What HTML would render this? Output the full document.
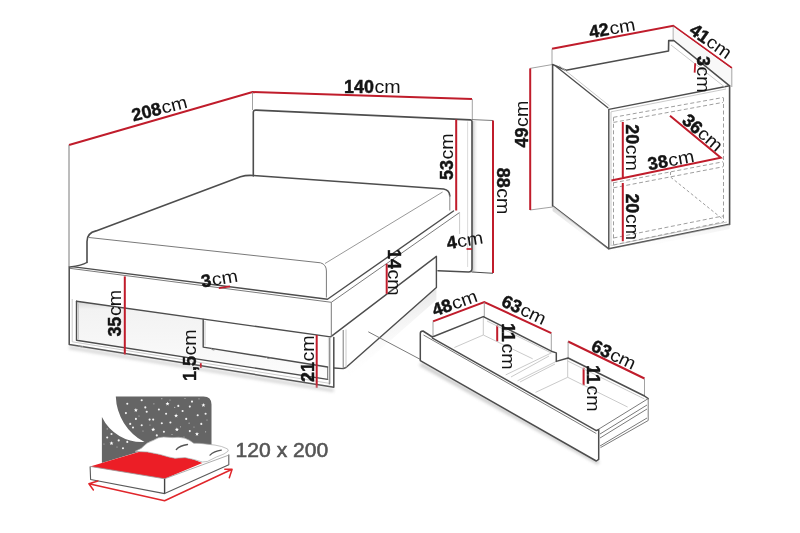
<!DOCTYPE html>
<html><head><meta charset="utf-8">
<style>
html,body{margin:0;padding:0;background:#fff;}
body{width:800px;height:533px;overflow:hidden;}
svg{display:block;filter:blur(0.3px);}
text{font-family:"Liberation Sans",sans-serif;fill:#141414;}
.b{font-weight:bold;stroke:#141414;stroke-width:0.45;}
.c{}
text{font-size:17.9px;}
.d{stroke:#4d4d4d;stroke-width:1.6;fill:none;stroke-linejoin:round;stroke-linecap:round;}
.m{stroke:#7a7a7a;stroke-width:1;fill:none;}
.l{stroke:#c4c4c4;stroke-width:0.9;fill:none;}
.r{stroke:#c01c2b;stroke-width:2;fill:none;}
.e{stroke:#8a8a8a;stroke-width:0.8;fill:none;}
.ds{stroke:#9a9a9a;stroke-width:0.95;fill:none;stroke-dasharray:4 2.5;}
</style></head>
<body>
<svg width="800" height="533" viewBox="0 0 800 533">
<defs>
<linearGradient id="hs" x1="0" x2="1" y1="0" y2="0">
<stop offset="0" stop-color="#c4c4c4"/><stop offset="1" stop-color="#fff" stop-opacity="0"/>
</linearGradient>
<linearGradient id="rs" x1="0" x2="0" y1="0" y2="1">
<stop offset="0" stop-color="#d6d6d6"/><stop offset="0.1" stop-color="#f2f2f2"/><stop offset="1" stop-color="#fcfcfc"/>
</linearGradient>
<linearGradient id="sh" x1="0" x2="0.3" y1="0" y2="1">
<stop offset="0" stop-color="#d0d0d0"/><stop offset="1" stop-color="#fff" stop-opacity="0"/>
</linearGradient>
<linearGradient id="sh2" x1="0" x2="0" y1="0" y2="1">
<stop offset="0" stop-color="#d8d8d8"/><stop offset="1" stop-color="#fff" stop-opacity="0"/>
</linearGradient>
<filter id="bl" x="-10%" y="-50%" width="120%" height="200%"><feGaussianBlur stdDeviation="1.8"/></filter>
</defs>

<!-- ================= BED ================= -->
<!-- dimension 208 / 140 -->
<path class="r" d="M69,145 L252.5,92 L472,99"/>
<path class="e" d="M252.5,92 V110 M472.3,99 V120"/>
<path class="m" d="M69,145 V267"/>

<!-- headboard -->
<rect x="472.5" y="121" width="6" height="151" fill="url(#hs)"/>
<path class="d" d="M253.3,176 V112.5 Q253.3,110 256,110.1 L470.5,119.9 Q472,120 472,121.5 V268.5 Q472,272 468.5,272 L438,270.8"/>
<path class="l" d="M467.6,121.5 V267" style="stroke:#d8d8d8"/>
<path class="m" d="M472,119.6 L493,120.5"/>
<path class="d" d="M472,272 L492.5,273.2" style="stroke-width:1.1"/>
<path class="r" d="M456.2,119.5 V210.5 M493,120.5 V273"/>
<path class="r" d="M466.5,249 H472" style="stroke-width:1.6"/>

<!-- mattress -->
<path class="d" d="M87,262.5 V241.5 Q87,233 96,230.9 L240.5,176.8 Q246.5,174.9 253.4,175.5 L443.6,189 Q449.6,190 449.8,196"/>
<path class="m" d="M449.8,195 V210.5" style="stroke:#888"/>
<path class="m" d="M89,237.5 L320.5,262.8 Q326.4,264.5 326.4,271 V297.5"/>
<path class="m" d="M442.6,192 L325,263.5" style="stroke:#999"/>
<path class="d" d="M86.8,262.5 Q82,265.5 70,267" style="stroke-width:1.3"/>

<!-- platform ledge -->
<path class="d" d="M72,266.6 L327.5,299.3 L453.5,211" style="stroke-width:1.4"/>
<path class="m" d="M69.7,268.3 L331.3,302.3 L459.6,212.5"/>
<path class="l" d="M459.6,212.5 V234"/>
<!-- platform faces -->
<path d="M76.5,301.3 L330.6,336.9 L327.6,379.4 L76.5,340.3 Z" fill="url(#rs)"/>
<path d="M203.2,319.1 L327.6,336.5 L327.6,367 L203.2,347.1 Z" fill="#fff"/>
<path class="d" d="M76.5,301.3 L330.6,336.9 L436.4,256.4" style="stroke-width:1.4"/>
<path class="m" d="M331.3,302.3 V336.9"/>
<!-- left frame + rail -->
<path class="d" d="M69.2,267 V344.5 L333.8,387.2 V337.6" style="stroke-width:1.5"/>
<path class="l" d="M72.2,299 V341.8 L330.4,383.5 V338"/>
<path class="d" d="M76.5,301.3 V340.3 L327.6,379.4" style="stroke-width:1.4"/>
<path class="m" d="M327.6,367 V379.4 M329.3,337.6 V384.5"/>
<path class="d" d="M203.2,319.4 V347.1 L327.6,367" style="stroke-width:1.4"/>
<path class="l" d="M78.5,303.5 V339 M205,321 V345.5"/>
<path d="M78.5,345.5 l2.5,1.5 l2.5,-0.8 M211,348.5 l2,1.5 l2.5,-0.6 M266,357 l2,1.5 l2.5,-0.6" stroke="#888" stroke-width="1" fill="none"/>
<!-- right base / legs -->
<path d="M346,367.5 L436.4,287.5 L436.4,300 L350,376 Z" fill="url(#sh)"/>
<path class="d" d="M334.1,368 L343.2,368.6 L346,367.5 L436.4,287.5 V256.4" style="stroke-width:1.4"/>
<path class="m" d="M343.2,330 V368.6"/>
<path class="l" d="M346,329.5 V367.5"/>

<!-- pointer line -->
<path class="m" d="M368.3,331.8 L420.5,359.5"/>

<!-- bed dims -->
<path class="r" d="M124.8,276.4 V354.5"/>
<path class="r" d="M316.7,335 V387.8"/>
<path class="r" d="M386.7,263.8 V293.8"/>
<path class="r" d="M218.8,288.1 L230,286.3" style="stroke-width:1.8"/>
<path class="r" d="M200.8,363.2 V368" style="stroke-width:1.8"/>

<!-- ================= NIGHTSTAND ================= -->
<path class="r" d="M552,48.8 L673.2,25.8 L731.8,68"/>
<path class="e" d="M552,48.8 V64.5 M673.2,25.8 V41 M731.8,68 V87 M530,68.4 L552.5,64.5 M530,210 L552.5,207"/>
<path class="r" d="M530.2,68.4 V210"/>
<!-- body -->
<path d="M673.8,40.5 L729.6,85.8 L731,85.8 L731,68.5 L673.8,27 Z" fill="#f8f8f8"/>
<path class="d" d="M552.6,64.6 L566,70.2 L668.5,51 L668.7,40.6 L673.8,40.5 L729.6,85.8 V224.4 L608.8,248.8 L552.6,206 Z"/>
<path class="d" d="M608.8,109.4 L729.6,85.8 M608.8,109.4 V248.8" style="stroke-width:1.4"/>
<path d="M552.6,206 L608.8,248.8 L729.6,224.4 L729.6,229 L609,254 L552.6,211 Z" fill="url(#sh2)"/>
<path class="d" d="M556.2,66.4 L607.9,107.8" style="stroke-width:1.3"/>
<path class="l" d="M559,65.4 L609.6,106 M671,45 L726,88 M611.5,245.5 L727,222"/>
<path class="l" d="M611,112 V246 M611,111.8 L726,89"/>
<path class="ds" d="M613.5,117.3 L723,97.5 M613.5,122.4 L723,102.4 M613.5,182.8 L723,161.8 M613.5,187.8 L723,166.8 M613.5,238 L723,216 M613.5,245 L723,222 M613.5,117.3 V245 M723.5,97.5 V222"/>
<path class="ds" d="M670.5,172 V177 L722.5,219" style="stroke-dasharray:3 2.2"/>
<path class="r" d="M622.8,121.9 V178.8 M622.8,183.1 V241.2 M611.4,180.5 L720.8,157.8 L670,115.8"/>
<path class="r" d="M695.2,63.3 L694.6,72.6" style="stroke-width:1.8"/>

<!-- ================= DRAWER ================= -->
<path class="r" d="M433,321.4 L484.3,302 L551.3,333.2 M568.1,341.5 L644.5,378.5"/>
<path class="e" d="M433,321.4 V337 M484.3,302 V317 M551.3,333.2 V351 M568.1,341.5 V358 M644.5,378.5 V396"/>
<path class="r" d="M497.2,325.6 V341.6 M583.6,367.8 V385.2"/>
<!-- box right end & walls -->
<path class="l" d="M487,321 L551.3,353 M483.3,316.6 V335 L454.4,347.5 M483.3,335 L532.7,358.8 M551.3,352.9 L505.7,374.9 M556.3,361.4 L517.5,380.8 M549,356 L511,377 M555,364 L520,382 M567.7,357.6 V377.3 L535.5,392.4 M567.7,377.3 L627.6,407 M567.7,361 L644.5,399"/>
<path class="d" d="M432.3,337 L483.3,316.6 L551.3,351.2 L556.3,352.9 V361.4 L568.1,358 L644.5,396 L648.2,398.6" style="stroke-width:1.5"/>
<path class="m" d="M598.9,429 L648.2,398.6 V420.5 L600.5,447.6 M600,434 L647,405 M600,438 L647,409 M600,446 L647,418"/>
<!-- front panel -->
<path d="M420.3,364 L598.7,463" stroke="#bbb" stroke-width="4" fill="none" filter="url(#bl)" opacity="0.7"/>
<path d="M69.2,347.5 L333.8,390.5" stroke="#bbb" stroke-width="3.5" fill="none" filter="url(#bl)" opacity="0.55"/>
<path fill="#fff" d="M420.3,360.6 V333.5 Q420.3,331 423,331 L432.3,337 L596.3,430.5 L598.7,429.5 V459.4 L596.3,461 Z"/>
<path class="d" d="M420.3,360.6 V333.5 Q420.3,331 423,331 L432.3,337 M432.5,338.2 L596.3,430.6 L598.7,429.5 V459.4 L596.3,461 L420.3,360.6" style="stroke-width:1.5"/>
<path class="m" d="M423.5,335 L596.3,433.5"/>
<!-- ================= ICON ================= -->
<path fill="#656565" d="M115.8,396.5 H203.5 Q211.5,396.5 211.5,404.5 V452 L150,462 L101.9,468 V417 A44.5,44.5 0 0 0 144.5,442 A53.4,53.4 0 0 1 115.8,396.5 Z"/>
<g fill="#fff"><path d="M167.50,401.70 L168.03,403.07 L169.50,403.15 L168.36,404.08 L168.73,405.50 L167.50,404.70 L166.27,405.50 L166.64,404.08 L165.50,403.15 L166.97,403.07Z M176.10,413.60 L176.63,414.97 L178.10,415.05 L176.96,415.98 L177.33,417.40 L176.10,416.60 L174.87,417.40 L175.24,415.98 L174.10,415.05 L175.57,414.97Z M203.40,403.10 L203.93,404.47 L205.40,404.55 L204.26,405.48 L204.63,406.90 L203.40,406.10 L202.17,406.90 L202.54,405.48 L201.40,404.55 L202.87,404.47Z M197.00,431.90 L197.53,433.27 L199.00,433.35 L197.86,434.28 L198.23,435.70 L197.00,434.90 L195.77,435.70 L196.14,434.28 L195.00,433.35 L196.47,433.27Z M176.90,427.50 L177.43,428.87 L178.90,428.95 L177.76,429.88 L178.13,431.30 L176.90,430.50 L175.67,431.30 L176.04,429.88 L174.90,428.95 L176.37,428.87Z M153.20,427.50 L153.73,428.87 L155.20,428.95 L154.06,429.88 L154.43,431.30 L153.20,430.50 L151.97,431.30 L152.34,429.88 L151.20,428.95 L152.67,428.87Z M111.50,441.20 L112.03,442.57 L113.50,442.65 L112.36,443.58 L112.73,445.00 L111.50,444.20 L110.27,445.00 L110.64,443.58 L109.50,442.65 L110.97,442.57Z M135.90,408.10 L136.43,409.47 L137.90,409.55 L136.76,410.48 L137.13,411.90 L135.90,411.10 L134.67,411.90 L135.04,410.48 L133.90,409.55 L135.37,409.47Z"/><g fill-opacity="0.92"><circle cx="127.3" cy="403.8" r="1.05"/><circle cx="141.7" cy="400.2" r="1.05"/><circle cx="145.3" cy="407.4" r="1.05"/><circle cx="146.7" cy="411.7" r="1.05"/><circle cx="158.9" cy="409.5" r="1.05"/><circle cx="178.3" cy="405.9" r="1.05"/><circle cx="182.6" cy="411" r="1.05"/><circle cx="192" cy="401.6" r="1.05"/><circle cx="189.8" cy="406.6" r="1.05"/><circle cx="197.7" cy="415.3" r="1.05"/><circle cx="205.6" cy="413.8" r="1.05"/><circle cx="186.2" cy="418.9" r="1.05"/><circle cx="201.3" cy="423.9" r="1.05"/><circle cx="189.8" cy="431.1" r="1.05"/><circle cx="170.4" cy="422.5" r="1.05"/><circle cx="161.8" cy="423.2" r="1.05"/><circle cx="166.1" cy="413.8" r="1.05"/><circle cx="149.6" cy="419.6" r="1.05"/><circle cx="153.2" cy="419.6" r="1.05"/><circle cx="135.9" cy="418.9" r="1.05"/><circle cx="130.2" cy="423.9" r="1.05"/><circle cx="133" cy="427.5" r="1.05"/><circle cx="141.7" cy="425.3" r="1.05"/><circle cx="163.9" cy="431.8" r="1.05"/><circle cx="156.8" cy="435.4" r="1.05"/><circle cx="125.9" cy="413.1" r="1.05"/><circle cx="111.5" cy="434" r="1.05"/><circle cx="107.2" cy="437.5" r="1.05"/><circle cx="118.7" cy="440.4" r="1.05"/><circle cx="127.3" cy="441.9" r="1.05"/><circle cx="123" cy="448.3" r="1.05"/></g><circle cx="153.9" cy="403.8" r="0.6" fill-opacity="0.6"/><circle cx="161.8" cy="398.7" r="0.6" fill-opacity="0.6"/><circle cx="174.7" cy="407.4" r="0.6" fill-opacity="0.6"/><circle cx="180.5" cy="426.8" r="0.6" fill-opacity="0.6"/><circle cx="189.1" cy="423.2" r="0.6" fill-opacity="0.6"/><circle cx="205.6" cy="431.8" r="0.6" fill-opacity="0.6"/><circle cx="143" cy="431" r="0.6" fill-opacity="0.6"/><circle cx="107.2" cy="428.9" r="0.6" fill-opacity="0.6"/><circle cx="170" cy="400" r="0.6" fill-opacity="0.6"/><circle cx="185" cy="398.5" r="0.6" fill-opacity="0.6"/><circle cx="199" cy="398.8" r="0.6" fill-opacity="0.6"/><circle cx="139" cy="416" r="0.6" fill-opacity="0.6"/><circle cx="150" cy="425" r="0.6" fill-opacity="0.6"/><circle cx="172" cy="434.5" r="0.6" fill-opacity="0.6"/><circle cx="184" cy="437" r="0.6" fill-opacity="0.6"/><circle cx="207" cy="420" r="0.6" fill-opacity="0.6"/><circle cx="194" cy="427" r="0.6" fill-opacity="0.6"/><circle cx="117" cy="447" r="0.6" fill-opacity="0.6"/><circle cx="104" cy="444" r="0.6" fill-opacity="0.6"/></g>
<!-- mattress -->
<path fill="#fff" d="M90.1,466.4 L141.3,451 L228.8,454 L228.8,464.7 L164.6,493.6 L90.6,479.5 Z"/>
<path fill="#ec1e26" d="M90.1,466.4 L141.3,451.2 L147.5,452 L160,454.5 L168.8,457 L175,458.3 L185,457.6 L193.8,459.5 L202.3,463 L164.6,478.8 Z"/>
<path fill="#fff" stroke="#a8a8a8" stroke-width="0.7" stroke-linejoin="round" d="M135,451.4 L141.3,448.3 Q147,442 153.8,440.1 Q158,437 163.8,437 L172.5,437.6 Q179,436.6 185,438.3 Q190,440 193.8,443.3 Q199,443 205,443.9 L215,445.1 Q222,446 227.5,448.9 L228.3,451 L224,454 L216.3,457 L207.5,461.4 L202.5,462 L193.8,459.5 L185,457.6 L175,458.3 L168.8,457 L160,454.5 L147.5,452 Z"/>
<path stroke="#555" stroke-width="1.3" fill="none" stroke-linecap="round" d="M176.3,449.5 Q180,445.5 187.5,444.5 M210,455.1 Q214,451 221.3,450.1"/>
<path fill="none" stroke="#5a5a5a" stroke-width="1.1" stroke-linejoin="round" d="M90.1,466.4 L90.6,479.5 L164.6,493.6 L228.8,464.7 L228.8,454.6"/>
<path fill="none" stroke="#999" stroke-width="0.8" d="M90.1,466.4 L164.6,478.8 L228.8,455.1"/>
<path fill="none" stroke="#444" stroke-width="1.4" d="M164.6,478.8 V493.4"/>
<!-- arrows -->
<path stroke="#e0262b" stroke-width="1.5" fill="none" stroke-linecap="round" stroke-linejoin="round" d="M88.9,483.8 L164.6,500.7 L232.1,469.2 M97.9,481 L88.9,483.8 L93.4,490 M224.8,469.2 L232.1,469.2 L229.3,477.7"/>
<text x="235.6" y="457.2" style="font-size:21.1px;fill:#555;stroke:#555;stroke-width:0.55">120 x 200</text>

<!-- ================= LABELS ================= -->
<g transform="translate(133.50,121.50) rotate(-14.5)"><text class="b">208</text><text class="c" transform="translate(30.46,0) scale(1.1,1)">cm</text></g>
<g transform="translate(344.00,92.50) rotate(0)"><text class="b">140</text><text class="c" transform="translate(30.46,0) scale(1.1,1)">cm</text></g>
<g transform="translate(452.50,180.00) rotate(-90)"><text class="b">53</text><text class="c" transform="translate(20.50,0) scale(1.1,1)">cm</text></g>
<g transform="translate(496.60,167.70) rotate(90)"><text class="b">88</text><text class="c" transform="translate(20.50,0) scale(1.1,1)">cm</text></g>
<g transform="translate(447.70,249.30) rotate(-9.5)"><text class="b">4</text><text class="c" transform="translate(10.55,0) scale(1.1,1)">cm</text></g>
<g transform="translate(202.35,287.60) rotate(-9.5)"><text class="b">3</text><text class="c" transform="translate(10.55,0) scale(1.1,1)">cm</text></g>
<g transform="translate(388.30,249.00) rotate(90)"><text class="b">14</text><text class="c" transform="translate(20.50,0) scale(1.1,1)">cm</text></g>
<g transform="translate(121.00,336.60) rotate(-90)"><text class="b">35</text><text class="c" transform="translate(20.50,0) scale(1.1,1)">cm</text></g>
<g transform="translate(196.00,381.00) rotate(-90)"><text class="b">1,5</text><text class="c" transform="translate(25.48,0) scale(1.1,1)">cm</text></g>
<g transform="translate(314.40,382.00) rotate(-90)"><text class="b">21</text><text class="c" transform="translate(20.50,0) scale(1.1,1)">cm</text></g>
<g transform="translate(590.20,38.30) rotate(-10)"><text class="b">42</text><text class="c" transform="translate(20.50,0) scale(1.1,1)">cm</text></g>
<g transform="translate(688.20,32.80) rotate(35)"><text class="b">41</text><text class="c" transform="translate(20.50,0) scale(1.1,1)">cm</text></g>
<g transform="translate(697.20,55.90) rotate(90)"><text class="b">3</text><text class="c" transform="translate(10.55,0) scale(1.1,1)">cm</text></g>
<g transform="translate(528.00,147.40) rotate(-90)"><text class="b">49</text><text class="c" transform="translate(20.50,0) scale(1.1,1)">cm</text></g>
<g transform="translate(625.70,124.20) rotate(90)"><text class="b">20</text><text class="c" transform="translate(20.50,0) scale(1.1,1)">cm</text></g>
<g transform="translate(625.70,193.40) rotate(90)"><text class="b">20</text><text class="c" transform="translate(20.50,0) scale(1.1,1)">cm</text></g>
<g transform="translate(649.10,170.20) rotate(-10.5)"><text class="b">38</text><text class="c" transform="translate(20.50,0) scale(1.1,1)">cm</text></g>
<g transform="translate(681.00,121.90) rotate(41)"><text class="b">36</text><text class="c" transform="translate(20.50,0) scale(1.1,1)">cm</text></g>
<g transform="translate(434.65,316.60) rotate(-19.5)"><text class="b">48</text><text class="c" transform="translate(20.50,0) scale(1.1,1)">cm</text></g>
<g transform="translate(500.30,305.40) rotate(25)"><text class="b">63</text><text class="c" transform="translate(20.50,0) scale(1.1,1)">cm</text></g>
<g transform="translate(590.10,350.30) rotate(25)"><text class="b">63</text><text class="c" transform="translate(20.50,0) scale(1.1,1)">cm</text></g>
<g transform="translate(501.60,322.90) rotate(90)"><text class="b">11</text><text class="c" transform="translate(20.50,0) scale(1.1,1)">cm</text></g>
<g transform="translate(586.50,365.00) rotate(90)"><text class="b">11</text><text class="c" transform="translate(20.50,0) scale(1.1,1)">cm</text></g>
</svg>
</body></html>
